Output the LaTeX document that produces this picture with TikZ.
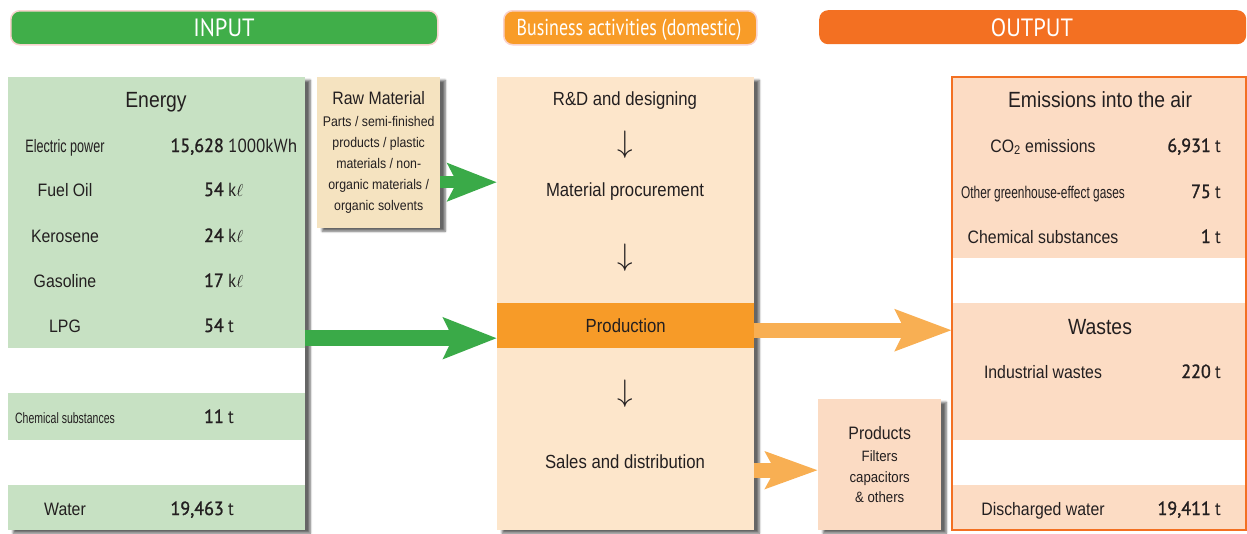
\documentclass[tikz,border=0pt]{standalone}
\usepackage{fontspec}
\usepackage{graphicx}
\usepackage{tikz}
\usetikzlibrary{arrows.meta,positioning,shadows.blur}

\setmainfont{Liberation Sans}[FakeStretch=0.88]
\newfontfamily\narrowfont{Liberation Sans}[FakeStretch=0.7]
\newfontfamily\headfont{PT Sans}[FakeStretch=0.9]
\newfontfamily\bizfont{PT Sans}[FakeStretch=0.78]
\newfontfamily\numfont{PT Sans}[FakeStretch=0.95,FakeBold=1.3]

\definecolor{ink}{HTML}{231F20}
\definecolor{ingreen}{HTML}{40AE49}
\definecolor{bizorange}{HTML}{F89C28}
\definecolor{outorange}{HTML}{F37022}
\definecolor{barrim}{HTML}{F8D3CE}
\definecolor{inbg}{HTML}{C7E1C3}
\definecolor{bizbg}{HTML}{FDE6CB}
\definecolor{prodband}{HTML}{F79B28}
\definecolor{outbg}{HTML}{FCDCC4}
\definecolor{rawbg}{HTML}{F5E3C0}
\definecolor{goodsbg}{HTML}{FBDBC3}
\definecolor{flowgreen}{HTML}{3AAA48}
\definecolor{floworange}{HTML}{F8AF53}

\newcommand{\stepdown}{\scalebox{1.25}{\fontsize{24}{24}\selectfont$\downarrow$}}

\begin{document}
\begin{tikzpicture}[x=1pt,y=-1pt,
    every node/.style={text=ink},
    bar/.style={anchor=north west,rounded corners=9pt,inner sep=0pt,minimum height=34pt},
    bartext/.style={anchor=base,inner sep=0pt,text=white,font=\headfont\fontsize{25}{25}\selectfont},
    block/.style={anchor=north west,inner sep=0pt,
                blur shadow={shadow xshift=5pt,shadow yshift=-3pt,shadow opacity=60,shadow blur steps=8}},
    gap/.style={anchor=north west,inner sep=0pt,fill=white,minimum height=45pt},
    title/.style={anchor=base,inner sep=0pt,font=\fontsize{22}{22}\selectfont},
    item/.style={anchor=base,inner sep=0pt,font=\fontsize{18}{18}\selectfont},
    tight/.style={anchor=base,inner sep=0pt,font=\narrowfont\fontsize{17}{17}\selectfont},
    amount/.style={anchor=base east,inner sep=0pt,font=\numfont\fontsize{19}{19}\selectfont},
    unit/.style={anchor=base west,inner sep=0pt,font=\headfont\fontsize{19}{19}\selectfont},
    downmark/.style={inner sep=0pt},
  ]
  \useasboundingbox (0,0) rectangle (1247,533);

  % header bars
  \node[bar,fill=ingreen,draw=barrim,line width=1.5pt,minimum width=427pt] (inbar) at (10,10) {};
  \node[bartext] (intext) at (224,36) {INPUT};
  \node[bar,fill=bizorange,draw=barrim,line width=1.5pt,minimum width=253pt] (bizbar) at (503,10) {};
  \node[bartext,font=\bizfont\fontsize{23}{23}\selectfont] (biztext) at (629,35) {Business activities (domestic)};
  \node[bar,fill=outorange,minimum width=427pt] (outbar) at (819,10) {};
  \node[bartext] (outtext) at (1032,36) {OUTPUT};

  % input panel
  \node[block,fill=inbg,minimum width=297pt,minimum height=453pt] (inpanel) at (8,77) {};
  \node[gap,minimum width=297pt] (ingap1) at (8,348) {};
  \node[gap,minimum width=297pt] (ingap2) at (8,440) {};

  \node[title] (energy) at (156,107) {Energy};
  \node[tight,font=\narrowfont\fontsize{18}{18}\selectfont] (elec) at (65,152) {Electric power};
  \node[amount] (elecval) at (224,152) {15,628};
  \node[unit] (elecunit) at (228,152) {1000kWh};
  \node[item] (fuel) at (65,196) {Fuel Oil};
  \node[amount] (fuelval) at (224,196) {54};
  \node[unit] (fuelunit) at (228,196) {k$\ell$};
  \node[item] (kero) at (65,242) {Kerosene};
  \node[amount] (keroval) at (224,242) {24};
  \node[unit] (kerounit) at (228,242) {k$\ell$};
  \node[item] (gaso) at (65,287) {Gasoline};
  \node[amount] (gasoval) at (224,287) {17};
  \node[unit] (gasounit) at (228,287) {k$\ell$};
  \node[item] (lpg) at (65,332) {LPG};
  \node[amount] (lpgval) at (224,332) {54};
  \node[unit] (lpgunit) at (228,332) {t};
  \node[tight,font=\narrowfont\fontsize{15}{15}\selectfont] (chemin) at (65,423) {Chemical substances};
  \node[amount] (cheminval) at (224,423) {11};
  \node[unit] (chemimunit) at (228,423) {t};
  \node[item] (water) at (65,515) {Water};
  \node[amount] (waterval) at (224,515) {19,463};
  \node[unit] (waterunit) at (228,515) {t};

  % business column
  \node[block,fill=bizbg,minimum width=257pt,minimum height=453pt] (biz) at (497,77) {};
  \node[anchor=north west,inner sep=0pt,fill=prodband,minimum width=257pt,minimum height=45pt,
        font=\fontsize{19}{19}\selectfont] (prod) at (497,303) {Production};
  \node[item,font=\fontsize{19}{19}\selectfont] (design) at (625,105) {R\&D and designing};
  \node[downmark] (down1) at (625,145) {\stepdown};
  \node[item,font=\fontsize{19}{19}\selectfont] (procure) at (625,196) {Material procurement};
  \node[downmark] (down2) at (625,258) {\stepdown};
  \node[downmark] (down3) at (625,394) {\stepdown};
  \node[item,font=\fontsize{19}{19}\selectfont] (sales) at (625,468) {Sales and distribution};

  % raw material
  \node[block,fill=rawbg,minimum width=123pt,minimum height=151pt,align=center,
        font=\fontsize{14}{21}\selectfont] (rawmat) at (317,77)
    {{\fontsize{18}{22}\selectfont Raw Material}\\[1pt]
     Parts / semi-finished\\ products / plastic\\ materials / non-\\ organic materials /\\ organic solvents};

  % output panel
  \node[anchor=north west,inner sep=0pt,fill=outbg,minimum width=294pt,minimum height=453pt] (outpanel) at (952,77) {};
  \node[gap,minimum width=294pt] (outgap1) at (952,258) {};
  \node[gap,minimum width=294pt] (outgap2) at (952,440) {};
  \draw[outorange,line width=2pt] (outpanel.north west) rectangle (outpanel.south east);

  \node[title] (air) at (1100,107) {Emissions into the air};
  \node[item] (co2) at (1043,152) {CO\textsubscript{2} emissions};
  \node[amount] (co2val) at (1211,152) {6,931};
  \node[unit] (co2unit) at (1215,152) {t};
  \node[tight] (ghg) at (1043,198) {Other greenhouse-effect gases};
  \node[amount] (ghgval) at (1211,198) {75};
  \node[unit] (ghgunit) at (1215,198) {t};
  \node[item] (chemout) at (1043,243) {Chemical substances};
  \node[amount] (chemoutval) at (1211,243) {1};
  \node[unit] (chemoutunit) at (1215,243) {t};
  \node[title] (wastes) at (1100,334) {Wastes};
  \node[item] (indus) at (1043,378) {Industrial wastes};
  \node[amount] (indusval) at (1211,378) {220};
  \node[unit] (indusunit) at (1215,378) {t};
  \node[item] (disch) at (1043,515) {Discharged water};
  \node[amount] (dischval) at (1211,515) {19,411};
  \node[unit] (dischunit) at (1215,515) {t};

  % products
  \node[block,fill=goodsbg,minimum width=123pt,minimum height=131pt,align=center,
        font=\fontsize{15}{20.5}\selectfont] (products) at (818,399)
    {{\fontsize{18}{23}\selectfont Products}\\[2pt]
     Filters\\ capacitors\\ \& others};

  % flows
  \coordinate (rawout) at ([yshift=-29.5pt]rawmat.east);
  \coordinate (enin) at ([yshift=-12.5pt]prod.west);
  \coordinate (prodout) at ([yshift=-4.5pt]prod.east);
  \coordinate (goodsin) at ([yshift=-5.5pt]products.west);

  \draw[flowgreen,line width=12pt,line cap=butt,-{Stealth[length=49pt,width=37pt,inset=9pt]}]
    (rawout) -- (biz.west |- rawout);
  \draw[flowgreen,line width=16pt,line cap=butt,-{Stealth[length=53pt,width=40pt,inset=9pt]}]
    (inpanel.east |- enin) -- (enin);
  \draw[floworange,line width=15pt,line cap=butt,-{Stealth[length=56pt,width=40pt,inset=9pt]}]
    (prodout) -- (outpanel.west |- prodout);
  \draw[floworange,line width=15pt,line cap=butt,-{Stealth[length=52pt,width=36pt,inset=9pt]}]
    (biz.east |- goodsin) -- (goodsin);
\end{tikzpicture}
\end{document}
